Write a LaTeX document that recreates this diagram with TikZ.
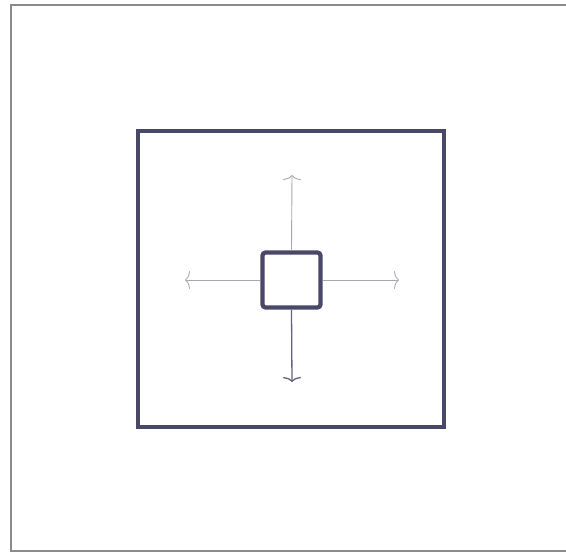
\documentclass[tikz,border=0pt]{standalone}
\usetikzlibrary{arrows.meta}
\definecolor{frame}{HTML}{4A4868}
\definecolor{outerc}{HTML}{8A8A92}
\definecolor{faint}{HTML}{A8A8B0}
\tikzset{
  box/.style={draw=frame, line width=3.4pt},
  cell/.style={draw=frame, line width=4.2pt, rounded corners=3pt, minimum width=58pt, minimum height=55pt, inner sep=0pt},
  ray/.style={draw=faint, line width=0.9pt, -{To[length=5pt,width=18pt]}},
  darkray/.style={draw=frame!85, line width=1.3pt, -{To[length=5pt,width=18pt]}},
}
\begin{document}
\begin{tikzpicture}[x=1pt,y=-1pt]
\useasboundingbox (0,0) rectangle (566,553);
\fill[white] (0,0) rectangle (566,553);
\draw[outerc, line width=1.8pt] (566,5) -- (11,5) -- (11,551) -- (566,551);
\draw[box] (138,131) rectangle (444,427);
\node[cell] (c) at (291.5,280) {};
\coordinate (up) at (292,175);
\coordinate (dn) at (292,382);
\coordinate (lf) at (185,280);
\coordinate (rt) at (399,280);
\draw[ray] (c.north) -- (up);
\draw[darkray] (c.south) -- (dn);
\draw[ray] (c.west) -- (lf);
\draw[ray] (c.east) -- (rt);
\end{tikzpicture}
\end{document}
